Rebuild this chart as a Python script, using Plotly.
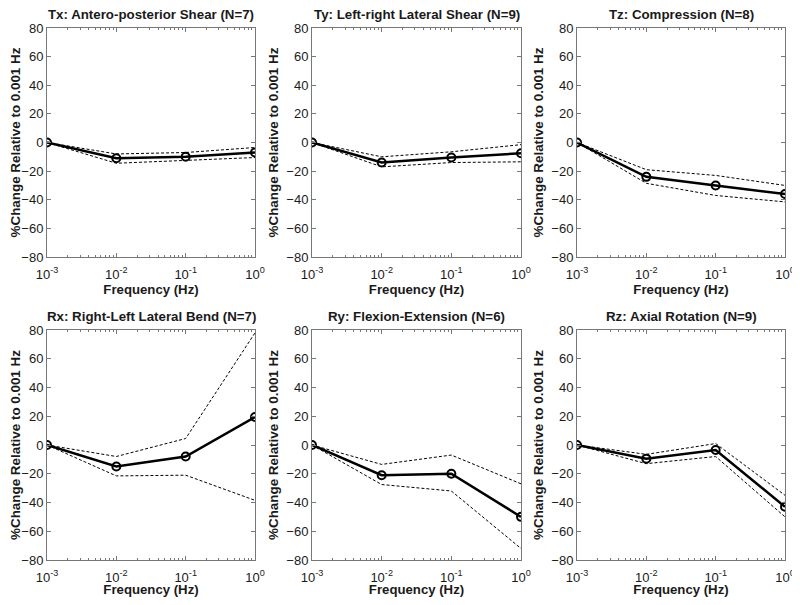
import plotly.graph_objects as go

freqs = [0.001, 0.01, 0.1, 1.0]
x_tick_vals = [0.001, 0.01, 0.1, 1.0]
x_tick_text = ["10<sup>-3</sup>", "10<sup>-2</sup>", "10<sup>-1</sup>", "10<sup>0</sup>"]
y_tick_vals = [-80, -60, -40, -20, 0, 20, 40, 60, 80]

titles = [
    "Tx: Antero-posterior Shear (N=7)",
    "Ty: Left-right Lateral Shear (N=9)",
    "Tz: Compression (N=8)",
    "Rx: Right-Left Lateral Bend (N=7)",
    "Ry: Flexion-Extension (N=6)",
    "Rz: Axial Rotation (N=9)",
]

tx_mean = [0, -11, -10, -7]
tx_upper = [0, -8, -7, -3.5]
tx_lower = [0, -14.5, -12.5, -10.5]

ty_mean = [0, -14, -10.5, -7.5]
ty_upper = [0, -10, -6.5, -1.5]
ty_lower = [0, -17, -14, -13.5]

tz_mean = [0, -24, -30, -36]
tz_upper = [0, -19, -23, -30]
tz_lower = [0, -28.5, -37, -41.5]

rx_mean = [0, -15, -8, 19.5]
rx_upper = [0, -8, 4.5, 78]
rx_lower = [0, -21.5, -21, -38.5]

ry_mean = [0, -21, -20, -50]
ry_upper = [0, -13.5, -7, -27]
ry_lower = [0, -27.5, -32, -72]

rz_mean = [0, -9.5, -3.5, -43]
rz_upper = [0, -6.5, 1, -35]
rz_lower = [0, -13, -8, -50]

panels = [
    (tx_mean, tx_upper, tx_lower),
    (ty_mean, ty_upper, ty_lower),
    (tz_mean, tz_upper, tz_lower),
    (rx_mean, rx_upper, rx_lower),
    (ry_mean, ry_upper, ry_lower),
    (rz_mean, rz_upper, rz_lower),
]

# page body has an 8px margin; size the figure to fit inside the window
OFF = 8
W, H = 800 - 2 * OFF, 605 - 2 * OFF
x_px = [(47, 255), (312, 521), (577, 785)]
y_px = [(28, 257), (330, 560)]


def px_x(p):
    return (p - OFF) / W


def px_y(p):
    return 1 - (p - OFF) / H


minor_vals = [m * 10.0 ** e for e in (-3, -2, -1) for m in range(2, 10)]

fig = go.Figure()
font_family = "Liberation Sans, Arial, sans-serif"
axis_color = "#777777"
text_color = "#1a1a1a"

for i, (mean, upper, lower) in enumerate(panels):
    r, c = divmod(i, 3)
    idx = "" if i == 0 else str(i + 1)
    xa, ya = "x" + idx, "y" + idx
    for arr in (upper, lower):
        fig.add_trace(go.Scatter(x=freqs, y=arr, mode="lines", xaxis=xa, yaxis=ya,
                                 line=dict(color="black", width=1, dash="3px,2px"),
                                 showlegend=False, hoverinfo="skip"))
    fig.add_trace(go.Scatter(x=freqs, y=mean, mode="lines+markers", xaxis=xa, yaxis=ya,
                             line=dict(color="black", width=2.5),
                             marker=dict(symbol="circle-open", size=8, color="black",
                                         line=dict(width=2, color="black")),
                             showlegend=False))
    x0, x1 = x_px[c]
    y0, y1 = y_px[r]
    common = dict(showline=True, mirror="allticks", linecolor=axis_color, linewidth=1,
                  ticks="inside", ticklen=4, tickcolor=axis_color, showgrid=False,
                  zeroline=False, automargin=False, ticklabeloverflow="allow",
                  tickfont=dict(family=font_family, size=13, color=text_color))
    fig.layout["xaxis" + idx] = dict(
        common, type="log", range=[-3, 0], domain=[px_x(x0), px_x(x1)], anchor=ya,
        tickvals=x_tick_vals, ticktext=x_tick_text, ticklabelstandoff=5,
        minor=dict(tickvals=minor_vals, ticks="inside", ticklen=2, tickcolor=axis_color),
        title=dict(text="<b>Frequency (Hz)</b>", standoff=3,
                   font=dict(family=font_family, size=13.2, color=text_color)))
    fig.layout["yaxis" + idx] = dict(
        common, range=[-80, 80], domain=[px_y(y1), px_y(y0)], anchor=xa,
        tickvals=y_tick_vals,
        title=dict(text="<b>%Change Relative to 0.001 Hz</b>", standoff=4,
                   font=dict(family=font_family, size=13.4, color=text_color)))
    fig.add_annotation(text="<b>" + titles[i] + "</b>", xref="paper", yref="paper",
                       x=px_x((x0 + x1) / 2), y=px_y(y0 - 5), xanchor="center",
                       yanchor="bottom", showarrow=False, borderpad=0,
                       font=dict(family=font_family, size=13.3, color=text_color))

fig.update_layout(width=W, height=H, margin=dict(l=0, r=0, t=0, b=0),
                  paper_bgcolor="white", plot_bgcolor="white")
fig.write_html("out.html")
